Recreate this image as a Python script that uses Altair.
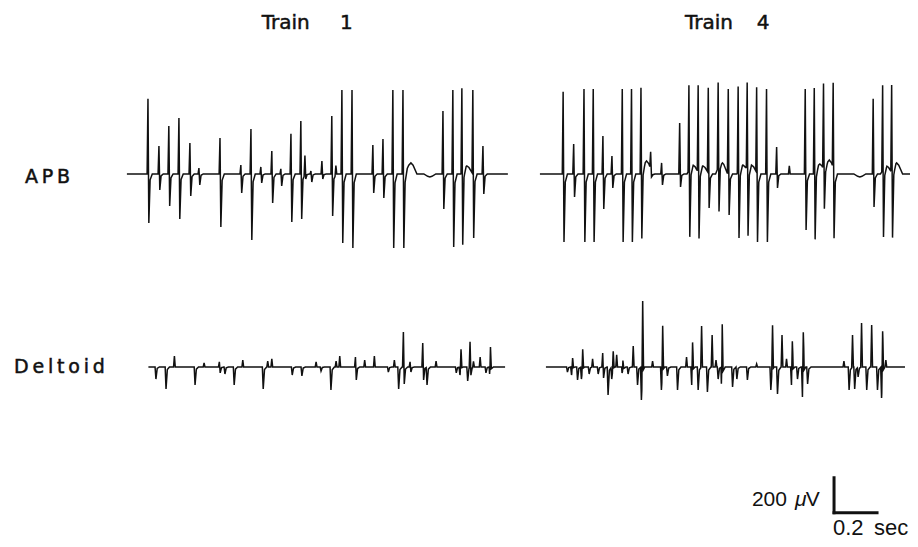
import altair as alt
import numpy as np
import pandas as pd

# ---------------- data ----------------
# spike times (s from start of each trace), upward / downward peak (µV)
APB1_T = [0.098, 0.149, 0.195, 0.242, 0.293, 0.335, 0.433, 0.530, 0.577, 0.623,
          0.674, 0.716, 0.763, 0.809, 0.828, 0.856, 0.907, 0.953, 0.972, 1.000,
          1.047, 1.144, 1.191, 1.237, 1.284, 1.470, 1.516, 1.558, 1.609, 1.656]
APB1_UP = [429, 160, 274, 320, 177, 34, 206, 51, 257, 40,
           131, 29, 229, 303, 109, 17, 74, 331, 51, 480,
           480, 166, 200, 480, 480, 360, 480, 480, 480, 160]
APB1_DN = [280, 91, 183, 257, 126, 63, 303, 109, 377, 51,
           166, 69, 274, 257, 29, 46, 29, 240, 0, 394,
           423, 109, 137, 423, 423, 200, 417, 423, 366, 114]
APB1_WAVE_T = [1.321, 1.409, 1.581]
APB1_WAVE_A = [63, -17, 46]
APB1_DUR = 1.772

APB4_T = [0.108, 0.157, 0.205, 0.248, 0.293, 0.335, 0.383, 0.426, 0.470, 0.515,
          0.566, 0.650, 0.693, 0.736, 0.783, 0.829, 0.876, 0.922, 0.964, 1.008,
          1.054, 1.101, 1.160, 1.234, 1.276, 1.319, 1.364, 1.550, 1.594, 1.636]
APB4_UP = [469, 171, 486, 486, 217, 103, 486, 486, 486, 97,
           63, 291, 486, 486, 486, 486, 486, 486, 486, 486,
           486, 154, 46, 486, 486, 486, 486, 429, 486, 486]
APB4_DN = [389, 131, 389, 389, 200, 80, 389, 389, 389, 34,
           63, 74, 389, 389, 194, 263, 234, 389, 389, 389,
           389, 80, 0, 320, 389, 234, 389, 189, 389, 389]
APB4_WAVE_T = [0.496, 0.712, 0.758, 0.845, 0.944, 0.984, 1.302, 1.346, 1.488, 1.612, 1.659]
APB4_WAVE_A = [74, 51, 46, 69, 51, 51, 57, 80, -17, 46, 63]
APB4_DUR = 1.758

DEL1_T = [0.031, 0.078, 0.121, 0.213, 0.259, 0.330, 0.352, 0.395, 0.439, 0.530,
          0.555, 0.574, 0.665, 0.710, 0.780, 0.799, 0.845, 0.873, 0.890, 0.963,
          1.006, 1.051, 1.112, 1.144, 1.160, 1.186, 1.217, 1.276, 1.292, 1.338,
          1.428, 1.445, 1.454, 1.481, 1.496, 1.512, 1.543, 1.566, 1.585, 1.591]
DEL1_UP = [0, 0, 63, 0, 23, 29, 0, 0, 40, 0,
           34, 46, 0, 0, 29, 0, 0, 34, 63, 57,
           40, 63, 0, 40, 0, 200, 29, 137, 0, 34,
           0, 0, 114, 0, 149, 34, 57, 0, 0, 171]
DEL1_DN = [69, 126, 0, 103, 0, 34, 40, 103, 0, 126,
           0, 0, 46, 51, 0, 23, 131, 0, 0, 74,
           0, 0, 29, 0, 126, 97, 29, 74, 103, 0,
           34, 46, 0, 80, 46, 0, 0, 34, 80, 0]
DEL1_WAVE_T = []
DEL1_WAVE_A = []
DEL1_DUR = 1.659

DEL4_T = [0.096, 0.115, 0.124, 0.143, 0.161, 0.171, 0.197, 0.217, 0.239, 0.264,
          0.285, 0.302, 0.313, 0.329, 0.352, 0.358, 0.378, 0.406, 0.422, 0.440,
          0.450, 0.496, 0.533, 0.543, 0.561, 0.608, 0.654, 0.674, 0.682, 0.704,
          0.724, 0.747, 0.773, 0.791, 0.797, 0.814, 0.820, 0.864, 0.884, 0.933,
          0.980, 1.042, 1.054, 1.073, 1.098, 1.119, 1.138, 1.146, 1.166, 1.189,
          1.197, 1.213, 1.386, 1.406, 1.426, 1.432, 1.448, 1.468, 1.488, 1.515,
          1.538, 1.557, 1.566, 1.581]
DEL4_UP = [0, 0, 63, 0, 0, 109, 0, 46, 0, 80,
           0, 0, 97, 69, 0, 86, 0, 120, 0, 0,
           400, 34, 0, 251, 0, 0, 57, 0, 183, 0,
           234, 0, 183, 40, 0, 0, 377, 0, 0, 0,
           17, 0, 251, 0, 183, 46, 0, 189, 0, 0,
           269, 0, 34, 0, 183, 0, 0, 251, 0, 240,
           0, 0, 251, 40]
DEL4_DN = [29, 46, 0, 74, 69, 0, 40, 0, 40, 63,
           160, 69, 0, 0, 69, 0, 40, 0, 103, 189,
           0, 0, 131, 0, 51, 131, 0, 103, 0, 131,
           0, 143, 0, 0, 69, 189, 0, 114, 69, 74,
           0, 131, 0, 154, 0, 0, 103, 0, 69, 171,
           0, 97, 0, 131, 0, 126, 57, 0, 131, 0,
           131, 177, 0, 0]
DEL4_WAVE_T = []
DEL4_WAVE_A = []
DEL4_DUR = 1.670

# figure layout (time offset of each trace in s, baseline level in µV)
TRACE_NAMES = ["APB1", "APB4", "DEL1", "DEL4"]
TRACE_START = [0.553, 2.474, 0.653, 2.502]
TRACE_BASE = [2086, 2086, 983, 983]

HEAD_TEXT = ["Train", "1", "Train", "4"]
HEAD_T = [1.180, 1.544, 3.149, 3.482]
HEAD_V = [2914, 2914, 2914, 2914]

ROW_TEXT = ["A\u2009P\u2009B", "D\u2009e\u2009l\u2009t\u2009o\u2009i\u2009d"]
ROW_T = [0.079, 0.028]
ROW_V = [2036, 947]

# scale bar: 200 µV, 0.2 s
BAR_T0, BAR_V0 = 3.842, 150
BAR_UV, BAR_S = 200, 0.2

SCALE_TEXT = ["200", "\u03bc", "V", "0.2 \u2009sec"]
SCALE_T = [3.623, 3.661, 3.711, 3.837]
SCALE_V = [189, 189, 189, 23]

X_DOMAIN = [0, 4.1953]
Y_DOMAIN = [0, 3034.3]

SPIKE_DT = [-0.004, 0.0, 0.004, 0.010, 0.020]


def build(times, ups, dns, wt, wa, dur):
    shapes = []
    for t, u, d in zip(times, ups, dns):
        shapes.append(([t + dt for dt in SPIKE_DT], [0, u, -d, -0.12 * d, 0]))
    for t, a in zip(wt, wa):
        shapes.append(([t - 0.028, t - 0.010, t, t + 0.010, t + 0.028],
                       [0, 0.8 * a, a, 0.8 * a, 0]))
    grid = {0.0, dur}
    for xs, _ in shapes:
        grid.update(x for x in xs if 0 <= x <= dur)
    grid = np.array(sorted(grid))
    v = np.zeros_like(grid)
    for xs, ys in shapes:
        v += np.interp(grid, xs, ys, left=0, right=0)
    return grid, v


series = {
    "APB1": (APB1_T, APB1_UP, APB1_DN, APB1_WAVE_T, APB1_WAVE_A, APB1_DUR),
    "APB4": (APB4_T, APB4_UP, APB4_DN, APB4_WAVE_T, APB4_WAVE_A, APB4_DUR),
    "DEL1": (DEL1_T, DEL1_UP, DEL1_DN, DEL1_WAVE_T, DEL1_WAVE_A, DEL1_DUR),
    "DEL4": (DEL4_T, DEL4_UP, DEL4_DN, DEL4_WAVE_T, DEL4_WAVE_A, DEL4_DUR),
}

rows = []
for name, t0, base in zip(TRACE_NAMES, TRACE_START, TRACE_BASE):
    tt, vv = build(*series[name])
    for i, (a, b) in enumerate(zip(tt, vv)):
        rows.append({"trace": name, "i": i, "T": t0 + a, "V": base + b})
df = pd.DataFrame(rows)

xs = alt.Scale(domain=X_DOMAIN, nice=False, zero=False)
ys = alt.Scale(domain=Y_DOMAIN, nice=False, zero=False)
X = alt.X("T:Q", scale=xs, axis=None)
Y = alt.Y("V:Q", scale=ys, axis=None)
INK = "#111111"

traces = alt.Chart(df).mark_line(color=INK, strokeWidth=1.5, clip=True).encode(
    x=X, y=Y, detail="trace:N", order="i:Q",
)

head = alt.Chart(pd.DataFrame({"T": HEAD_T, "V": HEAD_V, "s": HEAD_TEXT})).mark_text(
    align="left", baseline="alphabetic", font="DejaVu Sans", fontSize=20,
    color=INK, stroke=INK, strokeWidth=0.5
).encode(x=X, y=Y, text="s:N")

rowlab = alt.Chart(pd.DataFrame({"T": ROW_T, "V": ROW_V, "s": ROW_TEXT})).mark_text(
    align="left", baseline="alphabetic", font="DejaVu Sans", fontSize=19,
    color=INK, stroke=INK, strokeWidth=0.5
).encode(x=X, y=Y, text="s:N")

bar_df = pd.DataFrame({
    "T": [BAR_T0, BAR_T0], "V": [BAR_V0, BAR_V0],
    "T2": [BAR_T0, BAR_T0 + BAR_S], "V2": [BAR_V0 + BAR_UV, BAR_V0],
})
bar = alt.Chart(bar_df).mark_rule(color=INK, strokeWidth=3, strokeCap="square").encode(
    x=X, y=Y, x2="T2:Q", y2="V2:Q",
)

sdf = pd.DataFrame({"T": SCALE_T, "V": SCALE_V, "s": SCALE_TEXT})
scale_num = alt.Chart(sdf.iloc[[0]]).mark_text(
    align="right", baseline="alphabetic", font="Liberation Sans", fontSize=21, color=INK
).encode(x=X, y=Y, text="s:N")
mu = alt.Chart(sdf.iloc[[1]]).mark_text(
    align="left", baseline="alphabetic", font="Liberation Sans", fontSize=21,
    fontStyle="italic", color=INK
).encode(x=X, y=Y, text="s:N")
scale_v = alt.Chart(sdf.iloc[[2]]).mark_text(
    align="left", baseline="alphabetic", font="Liberation Sans", fontSize=21, color=INK
).encode(x=X, y=Y, text="s:N")
scale_sec = alt.Chart(sdf.iloc[[3]]).mark_text(
    align="left", baseline="alphabetic", font="Liberation Sans", fontSize=22, color=INK
).encode(x=X, y=Y, text="s:N")

chart = alt.layer(traces, head, rowlab, bar, scale_num, mu, scale_v, scale_sec).properties(
    width=902, height=531, padding=0, background="white",
    autosize=alt.AutoSizeParams(type="fit", contains="padding"),
).configure_view(stroke=None, strokeWidth=0)

chart.save("out.html", embed_options={"renderer": "svg", "actions": False})
